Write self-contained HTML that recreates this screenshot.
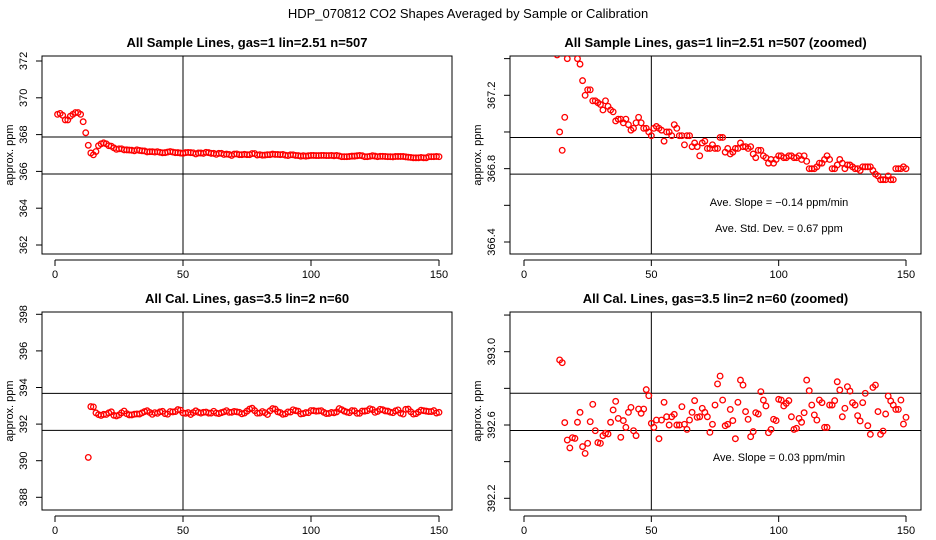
<!DOCTYPE html>
<html><head><meta charset="utf-8"><style>
html,body{margin:0;padding:0;background:#fff;width:936px;height:540px;overflow:hidden;}
svg{display:block;font-family:"Liberation Sans",Arial,sans-serif;overflow:hidden;}
</style></head><body>
<svg id="chart" width="936" height="540" viewBox="0 0 936 540">
<text x="468" y="18" text-anchor="middle" font-size="13">HDP_070812  CO2 Shapes Averaged by Sample or Calibration</text>
</svg>
<script>
// ---- data ----
const sampleX0 = 1;
const sampleValues = [369.1,369.15,369.05,368.8,368.8,369.0,369.1,369.2,369.2,369.1,368.7,368.1,367.42,367.0,366.9,367.08,367.4,367.5,367.55,367.5,367.4,367.37,367.28,367.2,367.23,367.23,
367.17,367.17,367.16,367.15,367.12,367.17,367.14,367.12,367.11,367.06,367.07,367.07,367.05,367.07,367.04,367.01,367.02,367.05,367.08,367.05,367.02,367.02,367.0,366.98,
367.02,367.03,367.02,367.01,366.95,367.0,367.0,366.98,367.04,367.02,366.98,366.98,366.93,366.98,366.98,366.92,366.94,366.92,366.87,366.94,
366.95,366.91,366.91,366.93,366.91,366.91,366.97,366.97,366.89,366.91,366.88,366.89,366.91,366.91,366.94,366.92,366.92,366.91,366.92,366.88,
366.86,366.9,366.9,366.87,366.86,366.83,366.85,366.83,366.85,366.87,366.87,366.86,366.86,366.87,366.87,366.86,366.86,366.87,366.85,366.87,
366.84,366.8,366.8,366.8,366.81,366.83,366.83,366.85,366.87,366.85,366.8,366.8,366.82,366.85,366.83,366.8,366.82,366.82,366.81,366.8,
366.8,366.79,366.81,366.81,366.81,366.81,366.79,366.77,366.76,366.74,366.74,366.74,366.76,366.74,366.74,366.8,366.8,366.8,366.81,366.8];
const calX0 = 13;
const calValues = [390.18,392.955,392.94,392.613,392.518,392.475,392.531,392.527,392.615,392.669,392.482,392.445,392.5,392.618,392.713,392.569,392.504,392.5,392.542,392.555,392.551,
392.615,392.682,392.729,392.636,392.533,392.624,392.587,392.669,392.696,392.569,392.542,392.687,392.664,392.687,392.793,392.76,392.609,392.587,392.627,392.525,
392.627,392.724,392.645,392.6,392.645,392.658,392.6,392.6,392.7,392.604,392.576,392.627,392.669,392.733,392.642,392.645,392.691,392.669,392.645,392.56,
392.604,392.709,392.824,392.867,392.736,392.596,392.604,392.685,392.624,392.525,392.724,392.845,392.818,392.673,392.631,392.536,392.564,392.667,392.66,392.782,
392.736,392.704,392.558,392.576,392.631,392.624,392.74,392.736,392.704,392.718,392.733,392.645,392.576,392.582,392.636,392.615,392.667,392.845,392.787,392.709,
392.655,392.627,392.736,392.722,392.587,392.587,392.709,392.709,392.733,392.836,392.791,392.645,392.691,392.809,392.785,392.722,392.709,392.651,392.622,392.722,
392.773,392.596,392.549,392.805,392.818,392.673,392.549,392.567,392.66,392.758,392.731,392.709,392.685,392.685,392.736,392.605,392.642];
const xTicks = [0,50,100,150];
const tlTicks = [362,364,366,368,370,372];
const trTicks = [366.4,366.6,366.8,367.0,367.2,367.4];
const trLabels = ["366.4","","366.8","","367.2",""];
const blTicks = [388,390,392,394,396,398];
const brTicks = [392.2,392.4,392.6,392.8,393.0,393.2];
const brLabels = ["392.2","","392.6","","393.0",""];
const tlHLines = [367.87,365.86];
const trHLines = [366.97,366.77];
const blHLines = [393.68,391.66];
const brHLines = [392.773,392.57];
const vLineX = 50;

const NS = "http://www.w3.org/2000/svg";
const svg = document.getElementById('chart');
function mk(tag, attrs, parent){
  const e = document.createElementNS(NS, tag);
  for (const k in attrs) e.setAttribute(k, attrs[k]);
  (parent||svg).appendChild(e); return e;
}
let clipId = 0;
function panel(opts){
  const {key, box, x0px, x150px, yRef, title, ticks, labels, hlines, xs0, vals} = opts;
  const g = mk('g', {});
  
  
  const sx = v => x0px + (x150px - x0px) * v / 150;
  const sy = v => yRef.p0 + (v - yRef.v0) * (yRef.p1 - yRef.p0) / (yRef.v1 - yRef.v0);
  const t = mk('text', {x:(box.x1+box.x2)/2, y:box.y1-9, 'text-anchor':'middle','font-size':13,'font-weight':'bold'}, g);
  t.textContent = title;
  
  
  const id = 'c' + (clipId++);
  const cp = mk('clipPath', {id}, g);
  mk('rect', {x:box.x1, y:box.y1, width:box.x2-box.x1, height:box.y2-box.y1}, cp);
  const xa = mk('g', {}, g);
  
  
  mk('line', {x1:sx(xTicks[0]), x2:sx(xTicks[xTicks.length-1]), y1:box.y2+6, y2:box.y2+6, stroke:'#000'}, xa);
  xTicks.forEach(v => {
    mk('line', {x1:sx(v), x2:sx(v), y1:box.y2+6, y2:box.y2+12, stroke:'#000'}, xa);
    const tt = mk('text', {x:sx(v), y:box.y2+24, 'text-anchor':'middle','font-size':11}, xa);
    tt.textContent = v;
  });
  const ya = mk('g', {}, g);
  
  
  mk('line', {x1:box.x1, x2:box.x1, y1:sy(ticks[0]), y2:sy(ticks[ticks.length-1]), stroke:'#000'}, ya);
  ticks.forEach((v,i) => {
    mk('line', {x1:box.x1-6, x2:box.x1, y1:sy(v), y2:sy(v), stroke:'#000'}, ya);
    const lab = labels ? labels[i] : String(v);
    if (lab) {
      const tt = mk('text', {x:0, y:0, transform:`translate(${box.x1-15},${sy(v)}) rotate(-90)`, 'text-anchor':'middle','font-size':11}, ya);
      tt.textContent = lab;
    }
  });
  const yt = mk('text', {transform:`translate(${box.x1-29},${(box.y1+box.y2)/2}) rotate(-90)`, 'text-anchor':'middle','font-size':11}, g);
  yt.textContent = 'approx. ppm';
  
  
  mk('rect', {x:box.x1, y:box.y1, width:box.x2-box.x1, height:box.y2-box.y1, fill:'none', stroke:'#000'}, g);
  const rl = mk('g', {'clip-path':`url(#${id})`}, g);
  
  
  hlines.forEach(v => mk('line', {x1:box.x1, x2:box.x2, y1:sy(v), y2:sy(v), stroke:'#000'}, rl));
  mk('line', {x1:sx(vLineX), x2:sx(vLineX), y1:box.y1, y2:box.y2, stroke:'#000'}, rl);
  const pg = mk('g', {'clip-path':`url(#${id})`}, g);
  
  
  vals.forEach((v,i) => {
    const c = mk('circle', {cx:sx(xs0+i), cy:sy(v), r:2.8, fill:'none', stroke:'#f00', 'stroke-width':1.3}, pg);
    
    
  });
  return g;
}
const L = {x1:42,x2:452}, R = {x1:510,x2:921};
panel({key:'sample', box:{...L,y1:56,y2:254}, x0px:55, x150px:439, yRef:{v0:372,p0:61,v1:362,p1:245},
  title:'All Sample Lines, gas=1 lin=2.51 n=507', ticks:tlTicks, hlines:tlHLines, xs0:sampleX0, vals:sampleValues});
panel({key:'sample-zoomed', box:{...R,y1:56,y2:254}, x0px:524, x150px:906, yRef:{v0:367.2,p0:95.3,v1:366.4,p1:242},
  title:'All Sample Lines, gas=1 lin=2.51 n=507 (zoomed)', ticks:trTicks, labels:trLabels, hlines:trHLines, xs0:sampleX0, vals:sampleValues});
panel({key:'cal', box:{...L,y1:312,y2:510}, x0px:55, x150px:439, yRef:{v0:398,p0:314.3,v1:388,p1:497.3},
  title:'All Cal. Lines, gas=3.5 lin=2 n=60', ticks:blTicks, hlines:blHLines, xs0:calX0, vals:calValues});
panel({key:'cal-zoomed', box:{...R,y1:312,y2:510}, x0px:524, x150px:906, yRef:{v0:393.0,p0:351.7,v1:392.2,p1:498.3},
  title:'All Cal. Lines, gas=3.5 lin=2 n=60 (zoomed)', ticks:brTicks, labels:brLabels, hlines:brHLines, xs0:calX0, vals:calValues});
function note(txt, x, y, name){
  const t = mk('text', {x, y, 'text-anchor':'middle', 'font-size':11});
  t.textContent = txt;
  
  
}
note('Ave. Slope =  \u22120.14  ppm/min', 779, 206, 'sample-slope-note');
note('Ave. Std. Dev. =  0.67  ppm', 779, 232, 'sample-stddev-note');
note('Ave. Slope =  0.03  ppm/min', 779, 461, 'cal-slope-note');
</script>
</body></html>
